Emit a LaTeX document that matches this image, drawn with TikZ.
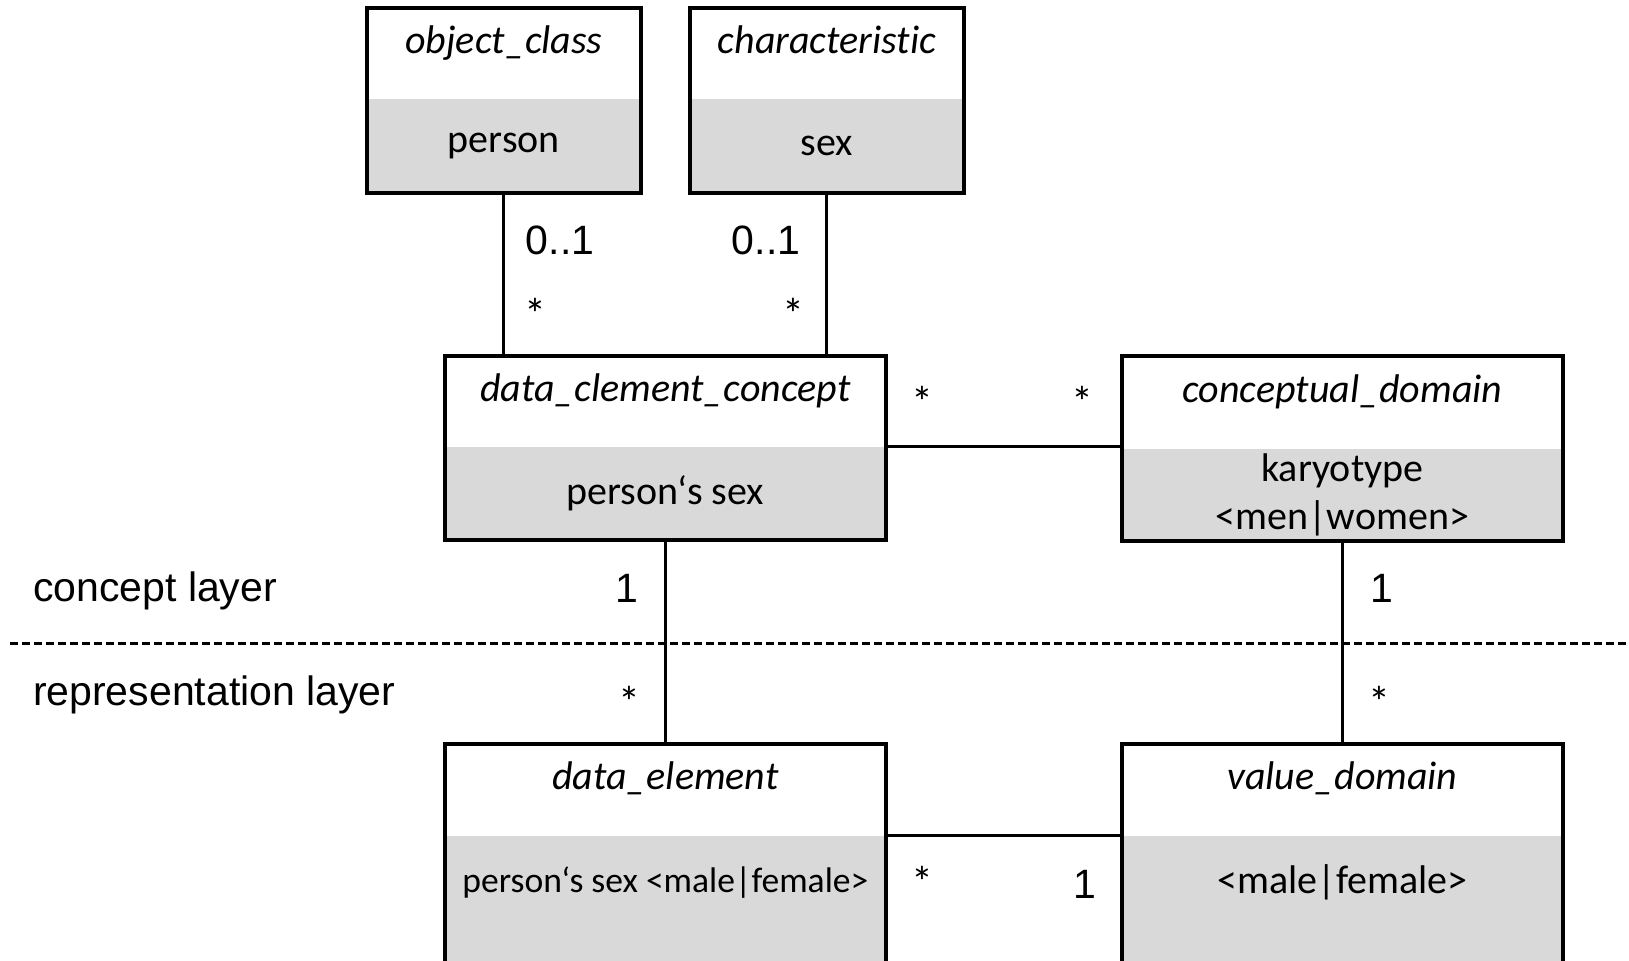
\documentclass[tikz,border=0pt]{standalone}
\usepackage{fontspec}
\setmainfont[Ligatures=NoCommon]{Carlito}
\newfontfamily\labelfont{Liberation Sans}
\definecolor{boxgray}{HTML}{D9D9D9}

\begin{document}
\begin{tikzpicture}[x=0.5pt, y=-0.5pt,
	boxhead/.style={minimum width=#1, minimum height=45pt, inner sep=0pt,
		text height=15pt, text depth=15pt,
		font=\fontsize{20}{24}\selectfont\itshape, anchor=north west},
	boxbody/.style={fill=boxgray, minimum width=#1, minimum height=46pt,
		inner sep=0pt, align=center,
		font=\fontsize{20}{24}\selectfont, anchor=north west},
	border/.style={line width=2pt},
	link/.style={line width=1.5pt},
	mult/.style={font=\labelfont\fontsize{20.5}{24}\selectfont},
	star/.style={font=\fontsize{22}{24}\selectfont},
	layer/.style={font=\labelfont\fontsize{20.5}{24}\selectfont, anchor=west}]
	\def \sw {136.5pt}
	\def \lw {220pt}

	\useasboundingbox (0,0) rectangle (1629,960);

	% concept layer
	\node[boxhead=\sw] (oc) at (367,8) {object\_class};
	\node[boxbody=\sw, minimum height=46.5pt] (ocb) at (oc.south west) {person};
	\draw[border] (oc.north west) rectangle (ocb.south east);

	\node[boxhead=\sw] (ch) at (690,8) {characteristic};
	\node[boxbody=\sw, minimum height=46.5pt] (chb) at (ch.south west) {sex};
	\draw[border] (ch.north west) rectangle (chb.south east);

	\node[boxhead=\lw] (dec) at (445,356) {data\_clement\_concept};
	\node[boxbody=\lw] (decb) at (dec.south west) {person‘s sex};
	\draw[border] (dec.north west) rectangle (decb.south east);

	\node[boxhead=\lw, minimum height=46pt] (cd) at (1122,356) {conceptual\_domain};
	\node[boxbody=\lw, minimum height=45.5pt] (cdb) at (cd.south west)
		{karyotype\\ <men|women>};
	\draw[border] (cd.north west) rectangle (cdb.south east);

	% representation layer
	\node[boxhead=\lw, minimum height=45.5pt] (de) at (445,744) {data\_element};
	\node[boxbody=\lw, minimum height=46.5pt, font=\fontsize{17.8}{20}\selectfont]
		(deb) at (de.south west) {person‘s sex <male|female>};
	\fill[boxgray] ([yshift=1pt]deb.south west) rectangle ([yshift=-60pt]deb.south east);
	\draw[border] ([yshift=-60pt]deb.south west) -- (de.north west) -- (de.north east)
		-- ([yshift=-60pt]deb.south east);

	\node[boxhead=\lw, minimum height=45.5pt] (vd) at (1122,744) {value\_domain};
	\node[boxbody=\lw, minimum height=46.5pt] (vdb) at (vd.south west) {<male|female>};
	\fill[boxgray] ([yshift=1pt]vdb.south west) rectangle ([yshift=-60pt]vdb.south east);
	\draw[border] ([yshift=-60pt]vdb.south west) -- (vd.north west) -- (vd.north east)
		-- ([yshift=-60pt]vdb.south east);

	% associations
	\draw[link] (ocb.south) -- (ocb.south |- dec.north);
	\draw[link] (chb.south) -- (chb.south |- dec.north);
	\draw[link] (dec.south east) -- (dec.south east -| cd.west);
	\draw[link] (decb.south) -- (de.north);
	\draw[link] (cdb.south) -- (vd.north);
	\draw[link] (de.south east) -- (vd.south west);

	% layer separator
	\coordinate (sepl) at (10,643);
	\coordinate (sepr) at (1629,643);
	\draw[line width=1.5pt, dash pattern=on 4pt off 2pt] (sepl) -- (sepr);
	\node[layer] (cl) at (26,591) {concept layer};
	\node[layer] (rl) at (26,695) {representation layer};

	% multiplicities
	\node[mult] (m1) at (560,240) {0..1};
	\node[mult] (m2) at (766,240) {0..1};
	\node[star] (s1) at (535,314) {*};
	\node[star] (s2) at (793,314) {*};
	\node[star] (s3) at (922,402) {*};
	\node[star] (s4) at (1082,402) {*};
	\node[mult] (m3) at (627,588) {1};
	\node[star] (s5) at (629,702) {*};
	\node[mult] (m4) at (1382,588) {1};
	\node[star] (s6) at (1379,702) {*};
	\node[star] (s7) at (922,882) {*};
	\node[mult] (m5) at (1085,884) {1};
\end{tikzpicture}
\end{document}
